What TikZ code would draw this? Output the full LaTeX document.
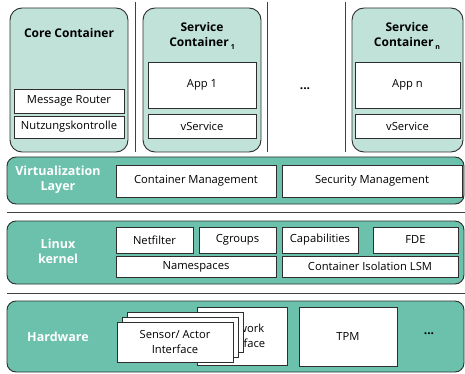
\documentclass[tikz,border=0pt]{standalone}
\usepackage{fontspec}
\setmainfont{Open Sans}
\usetikzlibrary{positioning}
\definecolor{contfill}{HTML}{C0E2D8}
\definecolor{bandfill}{HTML}{6BC1AB}
\definecolor{edge}{HTML}{2E2E2E}

\begin{document}
\begin{tikzpicture}[x=1pt, y=-1pt,
  cont/.style={draw=edge, line width=0.9pt, fill=contfill, rounded corners=12pt, anchor=north west, inner sep=0pt, outer sep=0pt},
  band/.style={draw=edge, line width=0.9pt, fill=bandfill, rounded corners=9pt, anchor=north west, inner sep=0pt, outer sep=0pt},
  box/.style={draw=edge, line width=0.9pt, fill=white, anchor=north west, inner sep=0pt, outer sep=0pt, align=center, font=\fontsize{11.2}{14.5}\selectfont},
  ttl/.style={font=\fontsize{12}{15.5}\selectfont\bfseries, align=center},
  lbl/.style={font=\fontsize{12.5}{15}\selectfont\bfseries, text=white, align=center},
  sep/.style={draw=black!75, line width=0.9pt}]
  \useasboundingbox (0,0) rectangle (465,374);

  % Containers
  \node[cont, minimum width=118pt, minimum height=144pt] (core) at (10,8) {};
  \node[cont, minimum width=118pt, minimum height=144pt] (svcone) at (143,8) {};
  \node[cont, minimum width=111pt, minimum height=144pt] (svcn) at (352,8) {};
  \node[ttl] (coretitle) at (69,33) {Core Container};
  \node[ttl] (svconetitle) at (202,36) {Service\\Container\,\raisebox{-0.5ex}{\scriptsize 1}};
  \node[ttl] (svcntitle) at (407,36) {Service\\Container\,\raisebox{-0.5ex}{\scriptsize n}};
  \node[box, minimum width=110pt, minimum height=24pt] (router) at (14,89) {Message Router};
  \node[box, minimum width=110pt, minimum height=22pt] (usage) at (14,116) {Nutzungskontrolle};
  \node[box, minimum width=108pt, minimum height=46pt] (appone) at (148,62) {App 1};
  \node[box, minimum width=108pt, minimum height=24pt] (vsvcone) at (148,114) {vService};
  \node[box, minimum width=105pt, minimum height=46pt] (appn) at (355,62) {App n};
  \node[box, minimum width=105pt, minimum height=24pt] (vsvcn) at (355,114) {vService};
  \node[ttl] (topdots) at (305,89) {...};

  % Separators
  \foreach \x [count=\i] in {135,267,345} {
    \coordinate (vt\i) at (\x,2);
    \coordinate (vb\i) at (\x,152);
    \draw[sep] (vt\i) -- (vb\i);
  }
  \foreach \y [count=\i] in {212,293} {
    \coordinate (hl\i) at (7,\y);
    \coordinate (hr\i) at (465,\y);
    \draw[sep] (hl\i) -- (hr\i);
  }

  % Virtualization layer
  \node[band, minimum width=457pt, minimum height=47pt] (virt) at (7,157) {};
  \node[lbl] (virtlabel) at (58,180) {Virtualization\\Layer};
  \node[box, minimum width=160pt, minimum height=32pt] (cmgmt) at (116,165) {Container Management};
  \node[box, minimum width=180pt, minimum height=32pt] (smgmt) at (282,165) {Security Management};

  % Linux kernel
  \node[band, minimum width=457pt, minimum height=63pt] (kernel) at (7,221) {};
  \node[lbl] (kernellabel) at (58,251) {Linux\\kernel};
  \node[box, minimum width=77pt, minimum height=26pt] (netfilter) at (116,227) {Netfilter};
  \node[box, minimum width=77pt, minimum height=26pt] (cgroups) at (199,227) {Cgroups};
  \node[box, minimum width=76pt, minimum height=26pt] (caps) at (282,227) {Capabilities};
  \node[box, minimum width=85pt, minimum height=26pt] (fde) at (373,227) {FDE};
  \node[box, minimum width=160pt, minimum height=21pt] (nspaces) at (116,256) {Namespaces};
  \node[box, minimum width=176pt, minimum height=21pt] (lsm) at (282,256) {Container Isolation LSM};

  % Hardware
  \node[band, minimum width=457pt, minimum height=71pt] (hw) at (7,301) {};
  \node[lbl] (hwlabel) at (58,337) {Hardware};
  \node[box, minimum width=90pt, minimum height=58pt] (network) at (197,307) {Network\\Interface};
  \foreach \d in {10,5}
    \node[box, minimum width=116pt, minimum height=40pt] (sensor\d) at (117+\d,322-\d) {};
  \node[box, minimum width=116pt, minimum height=40pt] (sensor) at (117,322) {Sensor/ Actor\\Interface};
  \node[box, minimum width=98pt, minimum height=59pt] (tpm) at (299,307) {TPM};
  \node[ttl] (hwdots) at (429,334) {...};
\end{tikzpicture}
\end{document}
